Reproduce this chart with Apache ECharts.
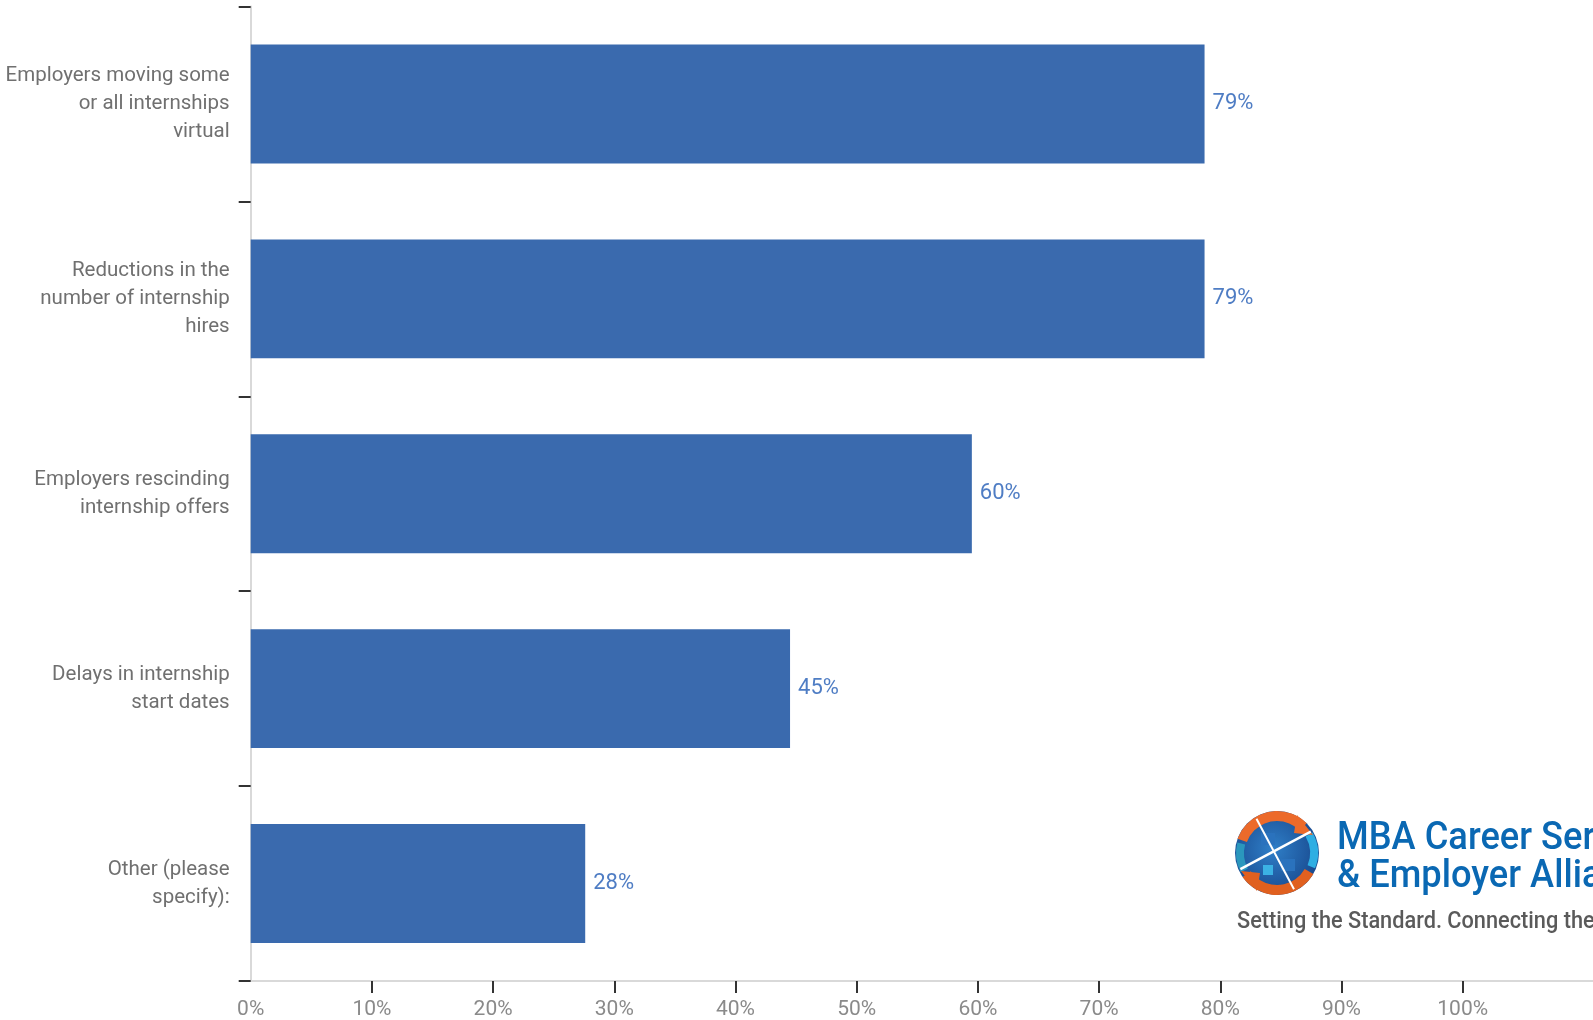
<!DOCTYPE html>
<html>
<head>
<meta charset="utf-8">
<script src="https://cdn.jsdelivr.net/npm/echarts@6/dist/echarts.min.js"></script>
<style>
html,body{margin:0;padding:0;background:#fff;}
#chart{width:1593px;height:1020px;}
</style>
</head>
<body>
<div id="chart"></div>
<script>
var categories = [
  "Employers moving some\nor all internships\nvirtual",
  "Reductions in the\nnumber of internship\nhires",
  "Employers rescinding\ninternship offers",
  "Delays in internship\nstart dates",
  "Other (please\nspecify):"
];
var values = [78.7, 78.7, 59.5, 44.5, 27.6];
var tickLabels = [0, 10, 20, 30, 40, 50, 60, 70, 80, 90, 100];
var tickMarks = [10, 20, 30, 40, 50, 60, 70, 80, 90, 100];

var FONT = 'Roboto';
var chart = echarts.init(document.getElementById('chart'));

var gx = 1277, gy = 853, gr = 42;
function chordLine(offset, ang) {
  var dx = Math.cos(ang), dy = Math.sin(ang);
  var nx = -dy, ny = dx;
  var half = Math.sqrt(Math.max(gr * gr - offset * offset, 0)) - 2;
  var cx = gx + nx * offset, cy = gy + ny * offset;
  return {x1: cx - dx * half, y1: cy - dy * half, x2: cx + dx * half, y2: cy + dy * half};
}
var deg = Math.PI / 180;

var option = {
  animation: false,
  grid: {left: 250.7, top: 6.5, right: 0, bottom: 38, containLabel: false},
  xAxis: {
    type: 'value',
    min: 0,
    max: 110.75,
    interval: 10,
    axisLine: {show: true, lineStyle: {color: '#d9d9d9', width: 2}},
    axisTick: {show: true, length: 12, customValues: tickMarks, lineStyle: {color: '#333', width: 2}},
    axisLabel: {
      customValues: tickLabels,
      margin: 18,
      color: '#8a8a8a',
      fontFamily: FONT,
      fontSize: 21,
      formatter: function (v) { return v + '%'; }
    },
    splitLine: {show: false}
  },
  yAxis: {
    type: 'category',
    inverse: true,
    data: categories,
    axisLine: {show: true, lineStyle: {color: '#d9d9d9', width: 2}},
    axisTick: {show: true, length: 12, lineStyle: {color: '#333', width: 2}},
    axisLabel: {
      margin: 21,
      color: '#707070',
      fontFamily: FONT,
      fontSize: 20.5,
      lineHeight: 28,
      padding: [4, 0, 0, 0],
      align: 'right'
    }
  },
  series: [{
    type: 'bar',
    data: values,
    barCategoryGap: '39%',
    itemStyle: {color: '#3a6aae'},
    label: {
      show: true,
      position: 'right',
      distance: 8,
      color: '#4f7dc4',
      fontFamily: FONT,
      fontSize: 22,
      formatter: function (p) { return Math.round(p.value) + '%'; }
    }
  }],
  graphic: [
    {type: 'circle', shape: {cx: gx, cy: gy, r: gr}, style: {fill: new echarts.graphic.RadialGradient(0.45, 0.45, 0.6, [{offset: 0, color: '#2f7fc8'}, {offset: 1, color: '#17478c'}])}},
    {type: 'sector', shape: {cx: gx, cy: gy, r: gr, r0: 32, startAngle: 200 * deg, endAngle: 315 * deg}, style: {fill: '#ec6a2a'}},
    {type: 'sector', shape: {cx: gx, cy: gy, r: gr, r0: 32, startAngle: 30 * deg, endAngle: 145 * deg}, style: {fill: '#e0601f'}},
    {type: 'sector', shape: {cx: gx, cy: gy, r: gr - 1, r0: 33, startAngle: -30 * deg, endAngle: 22 * deg}, style: {fill: '#2eaee3'}},
    {type: 'sector', shape: {cx: gx, cy: gy, r: gr - 1, r0: 33, startAngle: 152 * deg, endAngle: 195 * deg}, style: {fill: '#2a97bd'}},
    {type: 'polygon', shape: {points: [[gx + 20, gy - 38], [gx + 36, gy - 18], [gx + 17, gy - 20]]}, style: {fill: '#ec6a2a'}},
    {type: 'polygon', shape: {points: [[gx - 20, gy + 38], [gx - 36, gy + 18], [gx - 17, gy + 20]]}, style: {fill: '#e0601f'}},
    {type: 'rect', shape: {x: gx - 16, y: gy - 20, width: 14, height: 12}, style: {fill: '#2a72bd'}},
    {type: 'rect', shape: {x: gx + 4, y: gy + 6, width: 14, height: 12}, style: {fill: '#2a72bd'}},
    {type: 'rect', shape: {x: gx - 14, y: gy + 12, width: 10, height: 10}, style: {fill: '#3bb2e4'}},
    {type: 'line', shape: chordLine(-3, -28 * deg), style: {stroke: '#fff', lineWidth: 2.5}},
    {type: 'line', shape: chordLine(2, 62 * deg), style: {stroke: '#fff', lineWidth: 2}},
    {
      type: 'group', x: 1337, y: 0, scaleX: 0.93, originX: 0,
      children: [
        {type: 'text', x: 0, y: 820, style: {text: 'MBA Career Services', fill: '#0a68b3', font: '500 39px Roboto', verticalAlign: 'top'}},
        {type: 'text', x: 0, y: 858, style: {text: '& Employer Alliance', fill: '#0a68b3', font: '500 39px Roboto', verticalAlign: 'top'}}
      ]
    },
    {
      type: 'group', x: 1237, y: 0, scaleX: 0.945, originX: 0,
      children: [
        {type: 'text', x: 0, y: 911, style: {text: 'Setting the Standard. Connecting the Community.', fill: '#5a5a5a', font: '500 23px Roboto', verticalAlign: 'top'}}
      ]
    }
  ]
};
chart.setOption(option);
</script>
</body>
</html>
